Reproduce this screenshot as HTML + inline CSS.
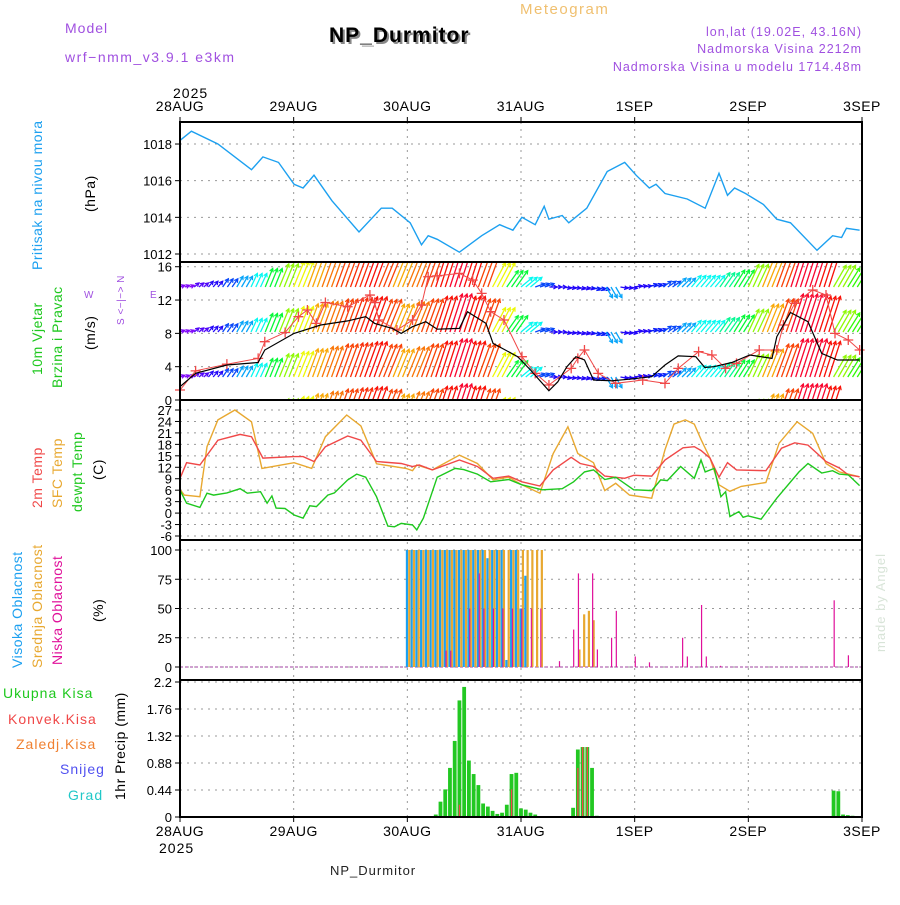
<!DOCTYPE html>
<html><head><meta charset="utf-8"><style>
body{margin:0;background:#fff;}
svg text{font-family:"Liberation Sans",sans-serif;}
</style></head><body>
<svg id="c" width="900" height="900" viewBox="0 0 900 900" xmlns="http://www.w3.org/2000/svg">
<rect width="900" height="900" fill="#fff"/>
<text x="65" y="33" font-size="14" fill="#a050e0" letter-spacing="1">Model</text>
<text x="65" y="62" font-size="14" fill="#a050e0" letter-spacing="1.5">wrf−nmm_v3.9.1  e3km</text>
<text x="520" y="14" font-size="15" fill="#f0c070" letter-spacing="1.5">Meteogram</text>
<text x="331" y="44" font-size="21" font-weight="bold" fill="#888" letter-spacing="1">NP_Durmitor</text>
<text x="329" y="42" font-size="21" font-weight="bold" fill="#000" letter-spacing="1">NP_Durmitor</text>
<g font-size="12.5" fill="#a050e0" text-anchor="end" letter-spacing="1">
<text x="862" y="36">lon,lat (19.02E, 43.16N)</text>
<text x="862" y="53">Nadmorska Visina 2212m</text>
<text x="862" y="71">Nadmorska Visina u modelu 1714.48m</text>
</g>
<text x="173" y="98" font-size="14" letter-spacing="1">2025</text>
<text x="159" y="853" font-size="14" letter-spacing="1">2025</text>
<text x="330" y="875" font-size="13" letter-spacing="1" fill="#222">NP_Durmitor</text>
<text transform="translate(885,652) rotate(-90)" font-size="13" fill="#d8e4d8" letter-spacing="1">made by Angel</text>
<g font-size="14" letter-spacing="0.5">
<text transform="translate(42,270) rotate(-90)" fill="#1ca0f0">Pritisak na nivou mora</text>
<text transform="translate(95,212) rotate(-90)" fill="#000">(hPa)</text>
<text transform="translate(42,375) rotate(-90)" fill="#1ec81e">10m Vjetar</text>
<text transform="translate(62,388) rotate(-90)" fill="#1ec81e">Brzina i Pravac</text>
<text transform="translate(95,350) rotate(-90)" fill="#000">(m/s)</text>
<text transform="translate(124,325) rotate(-90)" fill="#a050e0" font-size="10">S &lt;−|−&gt; N</text>
<text x="84" y="298" fill="#a050e0" font-size="10">W</text>
<text x="150" y="298" fill="#a050e0" font-size="10">E</text>
<text transform="translate(42,508) rotate(-90)" fill="#f04848">2m Temp</text>
<text transform="translate(62,508) rotate(-90)" fill="#e8a830">SFC Temp</text>
<text transform="translate(82,512) rotate(-90)" fill="#1ec81e">dewpt Temp</text>
<text transform="translate(103,480) rotate(-90)" fill="#000">(C)</text>
<text transform="translate(22,668) rotate(-90)" fill="#1ca0f0">Visoka Oblacnost</text>
<text transform="translate(42,668) rotate(-90)" fill="#e8a830">Srednja Oblacnost</text>
<text transform="translate(62,665) rotate(-90)" fill="#e0109a">Niska Oblacnost</text>
<text transform="translate(103,622) rotate(-90)" fill="#000">(%)</text>
<text x="3" y="698" fill="#1ec81e" letter-spacing="1">Ukupna Kisa</text>
<text x="8" y="724" fill="#f04848" letter-spacing="1">Konvek.Kisa</text>
<text x="16" y="749" fill="#f08030" letter-spacing="1">Zaledj.Kisa</text>
<text x="60" y="774" fill="#5050f0" letter-spacing="1">Snijeg</text>
<text x="68" y="800" fill="#20c8c8" letter-spacing="1">Grad</text>
<text transform="translate(125,800) rotate(-90)" fill="#000">1hr Precip (mm)</text>
</g>
<g id="plot"></g>
</svg>
<script>
const dayLabels=["28AUG","29AUG","30AUG","31AUG","1SEP","2SEP","3SEP"];
const presTicks=[1012,1014,1016,1018];
const windTicks=[0,4,8,12,16];
const tempTicks=[-6,-3,0,3,6,9,12,15,18,21,24,27];
const cloudTicks=[0,25,50,75,100];
const precipTicks=[0,0.44,0.88,1.32,1.76,2.2];
const presHours=[0,2.4,8,15.1,17.5,20.8,24.1,26,28.3,32.1,37.8,42.5,44.8,48.6,51,52.4,54.3,59,63.7,67.5,70.3,72.2,75,76.9,77.9,80.7,82.1,85.9,90.2,93.9,96.3,99.1,100.5,102.4,107.1,110.9,113.8,115.6,117.1,119.4,123.2,126,128.9,134.5,137.8,139.7,140.7,143.5];
const presVals=[1018.2,1018.7,1018.0,1016.6,1017.3,1017.0,1015.8,1015.6,1016.3,1014.9,1013.2,1014.5,1014.5,1013.7,1012.5,1013.0,1012.8,1012.1,1013.0,1013.6,1013.3,1014.0,1013.6,1014.6,1013.9,1014.1,1013.7,1014.5,1016.5,1017.0,1016.3,1015.6,1015.8,1015.3,1015.0,1014.5,1016.4,1015.2,1015.6,1015.3,1014.7,1013.9,1013.7,1012.2,1013.0,1012.9,1013.4,1013.3];
const t2Hours=[0,1.4,4.2,8,12.7,15.1,17.5,24.1,26,28.3,30.7,35.4,38.2,41.5,46.7,49.1,50.5,53.3,59,62.8,66.1,69.4,72.2,76,78.8,82.6,84.5,87.3,89.7,93.9,95.8,99.6,102.4,106.2,108.6,110,111.9,113.8,115.6,117.5,123.7,127,129.8,132.6,136.4,139.2,141.1,143.5];
const t2Vals=[9.1,13.2,12.6,19.1,20.6,20,14.4,14.8,14.8,13.5,17.4,20.2,19.1,13.5,13,12.2,12.6,11.3,13.9,12.2,9.1,9.7,8.2,7.1,11.3,14.6,13,12.2,9.7,9.1,9.9,9.7,13.9,17.1,17.4,16.4,14.4,9.4,13.2,11.3,11.1,17,18.4,17.8,13.5,11.8,10,9.5];
const sfcHours=[0,0.9,4.2,5.7,8,11.6,15.1,17.3,24.1,27.8,30.7,35.2,38.2,41.5,47.7,49.1,50,53.3,59,62.8,66.1,69.4,72.2,76,78.8,81.9,84,87.3,89.7,92,94.9,99.6,102.4,104.3,106.7,108.6,110,111.9,113.8,116.1,118.5,123.7,126.5,130.3,133.6,136.4,139.2,143.5];
const sfcVals=[6.2,4.7,4.3,17.4,24.4,27,23.9,11.7,13.2,11.7,20,25.7,22.8,12.9,11.7,11.1,12.6,11.3,15.2,13,8.7,9.4,7.4,5.2,15.6,22.6,15.6,13.2,5.9,7.8,4.7,3.9,16.6,23.3,24.4,23.3,19.3,14.4,7.4,5.7,7,8,18.3,23.9,20.9,13,10.8,9.5];
const dewHours=[0,1.4,4.2,5.7,7.1,9.9,12.7,14.2,17,18.4,19.4,20.3,22.2,24.1,26,27.4,28.8,31.2,32.6,35.4,37.3,39.2,41.5,43.9,45.3,46.7,49.1,50,51.4,54.3,58.1,59.9,62.8,65.6,69.4,72.2,76.5,80.7,83.1,85.4,87.3,89.7,92,95.8,99.6,101.5,102.9,105.7,108.6,110,110.9,112.8,114.2,115.2,116.1,118,118.9,119.9,122.7,126,130.7,132.6,135.5,137.8,139.2,141.1,143.5];
const dewVals=[6,2.6,1.5,5.2,4.7,5.3,6.4,5.2,5.6,2.6,4.5,1.3,1.2,-0.5,-1.3,1.9,1.7,4.7,5.3,8.7,10.2,9.4,4.3,-3.4,-3.6,-2.7,-3.1,-4.4,-1.3,9.4,11.7,11.4,10.2,8.2,8.8,7.4,6.1,6.4,8.2,10.8,11.3,8.8,9.4,6.1,5.9,8.7,8.5,12.2,9.1,13.9,10.8,11.7,4.3,5.6,-0.9,0.4,-1.1,-0.7,-1.6,3.9,10.8,13,10.5,11.1,10.2,10,7.2];
const windHours=[0,3.3,9.9,16.5,17.9,24.1,29.7,35.4,39.2,41.1,44.8,46.7,49.1,51.9,54.3,59,60.7,64.6,66.1,71.3,74,77.9,79.8,81.7,83.6,85.4,87.3,91.1,94.9,99.6,102.4,105.2,108.9,110.8,112.7,116.5,120.3,125,126,128.9,132.6,135.5,138.8,143.5];
const windVals=[1.6,3.2,4.2,4.5,6,8,9,9.5,10,9.2,8.6,8,8.8,9.4,8.5,8.6,10.6,9.2,6.8,5.2,3.6,1.1,2.2,4,5.2,4.8,2.4,2.3,2.5,2.8,4.2,5.3,5.2,3.9,4,4.5,5.4,5,7.6,10.5,9.4,5.6,4.8,4.8];
const gustHours=[0,3.3,9.9,16.5,17.9,22.2,25,26.9,28.8,30.7,35.4,40.1,41.1,42,45.8,49.1,51,52.4,54.3,59,61.8,63.7,65.6,68.4,72.2,75,77.9,82.6,84,85.4,88.3,92,97.7,102.4,105.2,109.5,112.3,115.2,117.5,122.3,126,127.4,129.8,133.6,136.4,138.3,141.1,143.5];
const gustVals=[1.2,3.5,4.3,5,7,8.1,10,10.8,9.2,11.7,11.2,12.6,11.7,9.6,8.4,9.6,11.4,14.8,14.9,15.2,14.4,12.8,10.6,9.6,5.2,3.2,1.8,3.8,5,6,3.2,2,2.4,2,3.8,5.8,5.4,3.8,4.4,6,6,9,11.6,13.2,12.6,8,7.2,6];
const vecHours=[0,3,6,9,12,15,18,21,24,27,30,33,36,39,42,45,48,51,54,57,60,63,66,69,72,75,78,81,84,87,90,93,96,99,102,105,108,111,114,117,120,123,126,129,132,135,138,141];
const vecSpeed=[2,2.5,3,4,5,6,8,10,11,12,13,14,14.5,15,14,12,13,14,15,16,15,14,11,8,6,4,3,3,3,3.5,5,3,3,3.5,4,5,6,6,7,8,10,12,14,16,16,15,10,9];
const vecDir=[70,50,40,35,30,25,22,22,22,20,20,20,20,20,22,22,22,20,18,18,18,20,28,35,50,70,90,100,105,110,150,100,80,70,55,45,40,40,35,32,25,22,20,18,18,18,30,32];
const cloudHours=[48,49,50,51,52,53,54,55,56,57,58,59,60,61,62,63,64,65,66,67,68,69,70,71,72,73,74,75,76];
const highCloud=[100,100,100,100,100,100,100,100,100,100,100,100,100,100,100,100,100,93,100,100,100,6,100,100,50,78,0,0,0];
const midCloud=[100,100,100,100,100,100,100,100,100,100,100,100,100,100,100,100,100,100,100,100,100,100,100,100,100,100,100,100,100];
const lowCloud=[0,0,0,0,0,0,0,0,14,14,0,0,0,50,0,80,50,0,50,0,50,0,50,0,50,0,50,0,50];
const lateLowHours=[80,83,84,87,88,91,92,96,99,106,107,110,111,114,138,141];
const lateLowVals=[5,32,80,80,15,25,48,9,4,25,9,53,9,1,57,10];
const lateMidHours=[84,85,86,87];
const lateMidVals=[15,45,48,40];
const precipHours=[54,55,56,57,58,59,60,61,62,63,64,65,66,67,68,69,70,71,72,73,74,75,83,84,85,86,87,88,138,139,140,141,142];
const precipTotal=[0.04,0.25,0.45,0.8,1.24,1.9,2.12,0.92,0.7,0.52,0.22,0.17,0.1,0.05,0.07,0.2,0.7,0.72,0.14,0.12,0.07,0.04,0.15,1.1,1.14,1.14,0.8,0.02,0.43,0.42,0.04,0.03,0.02];
const convHours=[59,70,84,85,86];
const convVals=[0.2,0.45,0.8,1.14,1.14];

const X0=180,X1=862;
const xS=h=>X0+h*(X1-X0)/144;
const yP=v=>254-(v-1012)*18.33;
const yW=v=>400-v*8.33;
const yT=v=>536-(v+6)*3.818;
const yC=v=>667-v*1.17;
const yR=v=>817-v*61.36;
const NS="http://www.w3.org/2000/svg";
const plot=document.getElementById('plot');
function mk(tag,attrs,parent){const e=document.createElementNS(NS,tag);for(const k in attrs)e.setAttribute(k,attrs[k]);(parent||plot).appendChild(e);return e;}

const panels=[[122,262],[262,400],[400,540],[540,680],[680,817]];
const defs=mk('defs',{});
panels.forEach((p,i)=>{const cp=mk('clipPath',{id:'cp'+i},defs);mk('rect',{x:X0,y:p[0],width:X1-X0,height:p[1]-p[0]},cp);});

const grid=mk('g',{stroke:'#999','stroke-dasharray':'2,5','stroke-width':1});


for(let d=1;d<6;d++){mk('line',{x1:xS(d*24),x2:xS(d*24),y1:122,y2:817},grid);}
function hgrid(ticks,f,fmt,name){
  const g=mk('g',{});
  
  
  ticks.forEach(t=>{const y=f(t);
    mk('line',{x1:X0,x2:X1,y1:y,y2:y,stroke:'#999','stroke-dasharray':'2,5'},g);
    mk('line',{x1:X0-5,x2:X0,y1:y,y2:y,stroke:'#000'},g);
    const tx=mk('text',{x:X0-8,y:y+5,'font-size':13,'text-anchor':'end'},g);tx.textContent=fmt(t);});
}
hgrid(presTicks,yP,t=>t,'pressure-axis');
hgrid(windTicks,yW,t=>t,'wind-axis');
hgrid(tempTicks,yT,t=>t,'temp-axis');
hgrid(cloudTicks,yC,t=>t,'cloud-axis');
hgrid(precipTicks,yR,t=>t,'precip-axis');

dayLabels.forEach((d,i)=>{const x=xS(i*24);
  const a=mk('text',{x:x,y:111,'font-size':14,'text-anchor':'middle','letter-spacing':0.5});a.textContent=d;
  
  
  const b=mk('text',{x:x,y:836,'font-size':14,'text-anchor':'middle','letter-spacing':0.5});b.textContent=d;
  
  
  mk('line',{x1:x,x2:x,y1:117,y2:122,stroke:'#000'});
  mk('line',{x1:x,x2:x,y1:817,y2:822,stroke:'#000'});
});

function line(hs,vs,f,color,name,clip,w){
  const pts=hs.map((h,i)=>xS(h).toFixed(1)+','+f(vs[i]).toFixed(1)).join(' ');
  const p=mk('polyline',{points:pts,fill:'none',stroke:color,'stroke-width':w||1.4,'clip-path':'url(#cp'+clip+')'});
  
  
  return p;
}
line(presHours,presVals,yP,'#1ca0f0','pressure-line',0,1.4);

function speedHue(L){
  let hue = L<30 ? 270-(L-5)*9.2 : 40-(L-30)*5;
  if(hue<0)hue+=360;
  return hue;
}
const wg=mk('g',{'clip-path':'url(#cp1)'});


const bases=[287,332,377,422];
bases.forEach(b=>{
  vecHours.forEach((h,i)=>{
    const L=vecSpeed[i]*2.5,a=vecDir[i]*Math.PI/180;
    const col='hsl('+speedHue(L)+',95%,50%)';
    for(let k=0;k<3;k++){
      const x=xS(h+k),dx=L*Math.sin(a),dy=-L*Math.cos(a);
      const ar=mk('line',{x1:x,y1:b,x2:x+dx,y2:b+dy,stroke:col,'stroke-width':1.3},wg);
      
      
      const ex=x+dx,ey=b+dy,ang=Math.atan2(dy,dx);
      const hd=mk('polyline',{points:(ex-4*Math.cos(ang-0.5))+','+(ey-4*Math.sin(ang-0.5))+' '+ex+','+ey+' '+(ex-4*Math.cos(ang+0.5))+','+(ey-4*Math.sin(ang+0.5)),fill:'none',stroke:col,'stroke-width':1.2},wg);
      
      
    }
  });
});
line(gustHours,gustVals,yW,'#f04848','gust-line',1,1);
const gm=mk('g',{stroke:'#f04848','stroke-width':1.3});


gustHours.forEach((h,i)=>{const x=xS(h),y=yW(gustVals[i]);
  mk('path',{d:`M${x-5},${y}H${x+5}M${x},${y-5}V${y+5}`},gm);});
line(windHours,windVals,yW,'#000','wind-speed-line',1,1.2);

line(sfcHours,sfcVals,yT,'#e8a830','sfc-temp-line',2,1.4);
line(t2Hours,t2Vals,yT,'#f04848','t2m-line',2,1.4);
line(dewHours,dewVals,yT,'#1ec81e','dewpoint-line',2,1.4);

const cg=mk('g',{'clip-path':'url(#cp3)'});


mk('line',{x1:X0,x2:X1,y1:yC(0),y2:yC(0),stroke:'#c080c0','stroke-width':1.5,'stroke-dasharray':'3,2'},cg);
function bar(g,h,v,f,col,off,w,name){
  if(v<=0)return;
  const y=f(v),r=mk('rect',{x:xS(h)+off,y:y,width:w,height:f(0)-y,fill:col},g);
  
  
}
cloudHours.forEach((h,i)=>{
  bar(cg,h,highCloud[i],yC,'#1ca0f0',-1.5,2.2,'high-cloud-bar');
  bar(cg,h,midCloud[i],yC,'#e8a830',0.8,2.2,'mid-cloud-bar');
  bar(cg,h,lowCloud[i],yC,'#e0109a',0.3,1.1,'low-cloud-bar');
});
lateMidHours.forEach((h,i)=>bar(cg,h,lateMidVals[i],yC,'#e8a830',0.5,2.2,'mid-cloud-bar'));
lateLowHours.forEach((h,i)=>bar(cg,h,lateLowVals[i],yC,'#e0109a',0,1.2,'low-cloud-bar'));

const pg=mk('g',{'clip-path':'url(#cp4)'});


precipHours.forEach((h,i)=>bar(pg,h,precipTotal[i],yR,'#22c822',-1.9,3.8,'total-precip-bar'));
convHours.forEach((h,i)=>bar(pg,h,convVals[i],yR,'#f04848',-0.6,1.3,'conv-precip-bar'));

panels.forEach((p,i)=>{const r=mk('rect',{x:X0,y:p[0],width:X1-X0,height:p[1]-p[0],fill:'none',stroke:'#000','stroke-width':2});
  
  });
</script>
</body></html>
